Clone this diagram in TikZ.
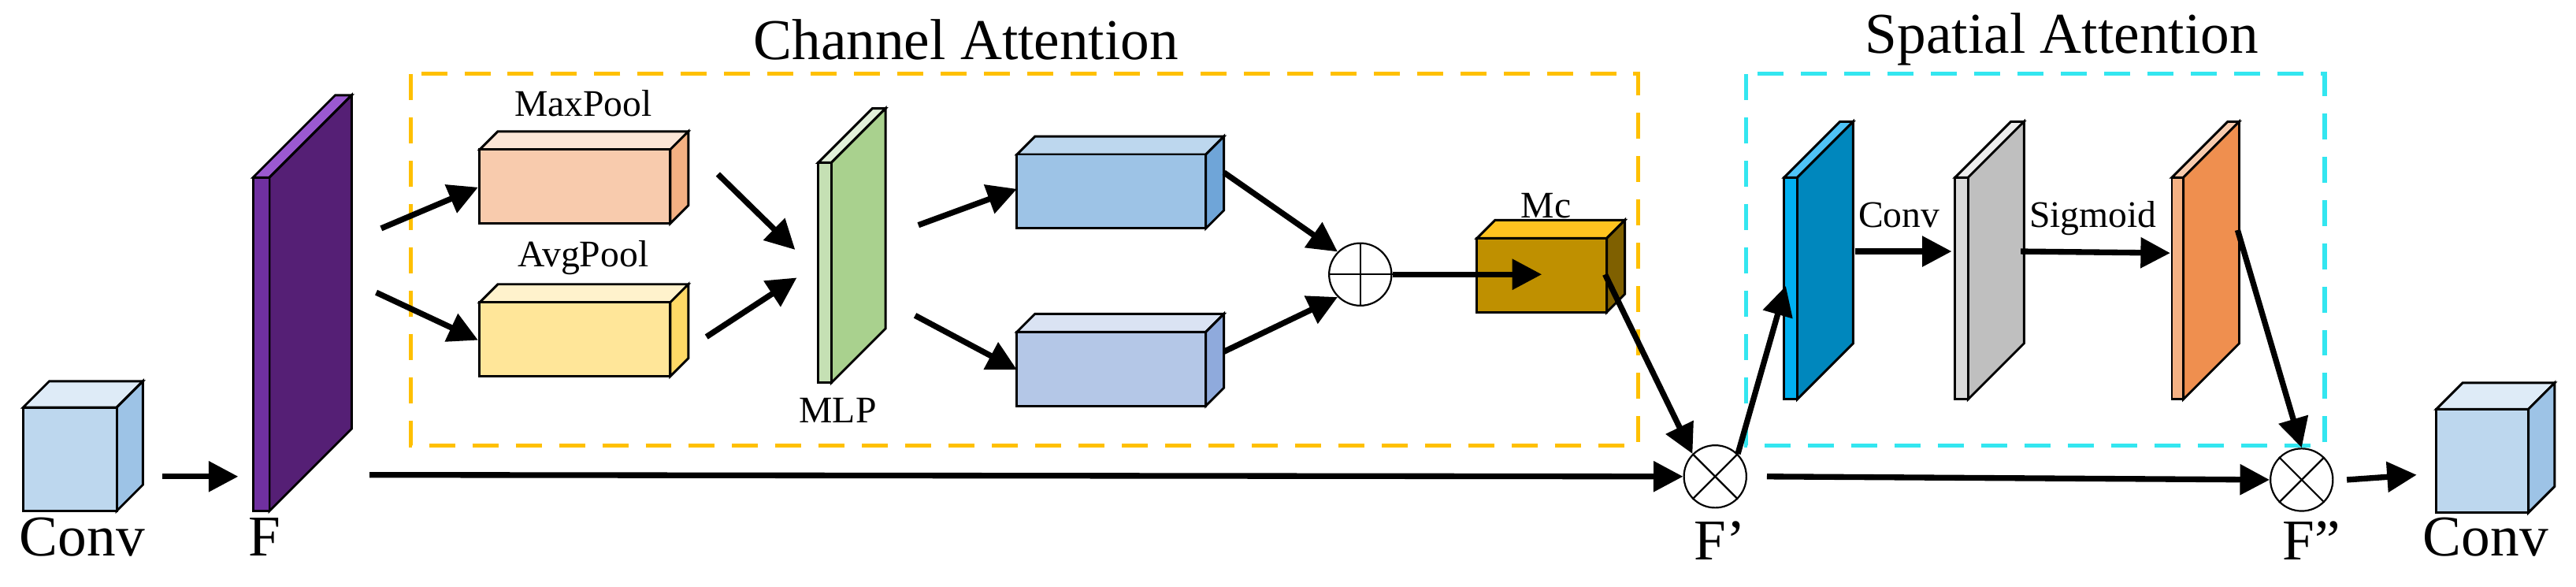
\documentclass[tikz,border=0pt]{standalone}
\usepackage{fontspec}
\setmainfont{Liberation Serif}
\usetikzlibrary{arrows.meta}
\definecolor{pF}{HTML}{7030A0}\definecolor{pS}{HTML}{551F75}\definecolor{pT}{HTML}{9B59D0}
\definecolor{mpF}{HTML}{F8CBAD}\definecolor{mpT}{HTML}{FBE5D6}\definecolor{mpS}{HTML}{F4B183}
\definecolor{apF}{HTML}{FFE699}\definecolor{apT}{HTML}{FFF2CC}\definecolor{apS}{HTML}{FFD966}
\definecolor{gF}{HTML}{C5E0B4}\definecolor{gS}{HTML}{A9D18E}\definecolor{gT}{HTML}{E2F0D9}
\definecolor{b1F}{HTML}{9DC3E6}\definecolor{b1T}{HTML}{BDD7EE}\definecolor{b1S}{HTML}{6FA5D8}
\definecolor{b2F}{HTML}{B4C7E7}\definecolor{b2T}{HTML}{DAE3F3}\definecolor{b2S}{HTML}{8FAADC}
\definecolor{mcF}{HTML}{BF9000}\definecolor{mcT}{HTML}{FFC31F}\definecolor{mcS}{HTML}{7F6000}
\definecolor{cvF}{HTML}{BDD7EE}\definecolor{cvT}{HTML}{DEEBF7}\definecolor{cvS}{HTML}{9DC3E6}
\definecolor{sbF}{HTML}{00B0F0}\definecolor{sbS}{HTML}{0087BD}\definecolor{sbT}{HTML}{4FC3F7}
\definecolor{sgF}{HTML}{D9D9D9}\definecolor{sgS}{HTML}{BFBFBF}\definecolor{sgT}{HTML}{EDEDED}
\definecolor{soF}{HTML}{F4B183}\definecolor{soS}{HTML}{EF8F4F}\definecolor{soT}{HTML}{F8CBAD}
\definecolor{chan}{HTML}{FFC000}\definecolor{spat}{HTML}{33E6F0}
\newcommand\blk[9]{%
 \filldraw[fill=#8,line width=0.8pt] (#2,#3) -- (#2+#6,#3-#6) -- (#4+#6,#3-#6) -- (#4,#3) -- cycle;
 \filldraw[fill=#9,line width=0.8pt] (#4,#3) -- (#4+#6,#3-#6) -- (#4+#6,#5-#6) -- (#4,#5) -- cycle;
 \filldraw[fill=#7,line width=0.8pt] (#2,#3) rectangle (#4,#5);
 \coordinate (#1) at ({(#2+#4)/2},{(#3+#5)/2});}
\begin{document}
\begin{tikzpicture}[x=0.02cm,y=-0.02cm,
 big/.style={font=\fontsize{20}{22}\selectfont},
 small/.style={font=\fontsize{13}{15}\selectfont},
 arr/.style={line width=2pt,-{Triangle[length=0.36cm,width=0.36cm]}},
 ln/.style={line width=2pt},
 op/.style={circle,draw,line width=0.6pt,minimum size=0.76cm,inner sep=0pt}]
\useasboundingbox (0,0) rectangle (1568,357);
% frames
\draw[chan,line width=1.4pt,dash pattern=on 9pt off 6pt] (250,45) rectangle (997,271);
\draw[spat,line width=1.4pt,dash pattern=on 9pt off 6pt] (1063,45) rectangle (1415,271);
\node[big] (tc) at (588,24) {Channel Attention};
\node[big] (ts) at (1255,24) {Spatial Attention};
% blocks
\blk{cv1}{14}{248}{71}{311}{16}{cvF}{cvT}{cvS}
\blk{F}{154}{108}{164}{311}{50}{pF}{pT}{pS}
\blk{mp}{292}{91}{408}{136}{11}{mpF}{mpT}{mpS}
\blk{ap}{292}{184}{408}{229}{11}{apF}{apT}{apS}
\blk{mlp}{498}{99}{506}{233}{33}{gF}{gT}{gS}
\blk{b1}{619}{94}{734}{139}{11}{b1F}{b1T}{b1S}
\blk{b2}{619}{202}{734}{247}{11}{b2F}{b2T}{b2S}
\blk{mc}{899}{145}{978}{190}{11}{mcF}{mcT}{mcS}
\blk{sb}{1086}{108}{1094}{243}{34}{sbF}{sbT}{sbS}
\blk{sg}{1190}{108}{1198}{243}{34}{sgF}{sgT}{sgS}
\blk{so}{1322}{108}{1329}{243}{34}{soF}{soT}{soS}
\blk{cv2}{1483}{249}{1539}{312}{16}{cvF}{cvT}{cvS}
% operators
\node[op] (plus) at (828,167) {};
\draw[line width=0.6pt] (plus.north) -- (plus.south) (plus.west) -- (plus.east);
\node[op] (m1) at (1044,290) {};
\draw[line width=0.6pt] (m1.north west) -- (m1.south east) (m1.north east) -- (m1.south west);
\node[op] (m2) at (1401,292) {};
\draw[line width=0.6pt] (m2.north west) -- (m2.south east) (m2.north east) -- (m2.south west);
% labels
\node[big] (lc1) at (50,327) {Conv};
\node[big] (lF) at (161,327) {F};
\node[small] (lmp) at (355,63) {MaxPool};
\node[small] (lap) at (355,157) {AvgPool};
\node[small] (lmlp) at (510,250) {MLP};
\node[small] (lmc) at (941,125) {Mc};
\node[small] (lcv) at (1156,131) {Conv};
\node[small] (lsg) at (1274,133) {Sigmoid};
\node[big] (lF1) at (1047,329) {F'};
\node[big] (lF2) at (1407,329) {F''};
\node[big] (lc2) at (1513,327) {Conv};
% connector coordinates
\coordinate (a1s) at (99,290); \coordinate (a1e) at (145,290);
\coordinate (a2s) at (232,139); \coordinate (a2e) at (291,114);
\coordinate (a3s) at (229,178); \coordinate (a3e) at (291,207);
\coordinate (a4s) at (437,106); \coordinate (a4e) at (484,152);
\coordinate (a5s) at (430,205); \coordinate (a5e) at (485,169);
\coordinate (a6s) at (559,137); \coordinate (a6e) at (619,115);
\coordinate (a7s) at (557,192); \coordinate (a7e) at (619,225);
\coordinate (a8s) at (745,105); \coordinate (a8e) at (745,214);
\coordinate (a9s) at (977,167);
\coordinate (fs) at (225,289);
\coordinate (sbi) at (1087,174);
\coordinate (c1s) at (1129,153); \coordinate (c1e) at (1188,153);
\coordinate (s1s) at (1230,153); \coordinate (s1e) at (1321,154);
\coordinate (o1s) at (1362,140);
\coordinate (cv2w) at (1471,289);
\draw[arr] (a1s) -- (a1e);
\draw[arr] (a2s) -- (a2e);
\draw[arr] (a3s) -- (a3e);
\draw[arr] (a4s) -- (a4e);
\draw[arr] (a5s) -- (a5e);
\draw[arr] (a6s) -- (a6e);
\draw[arr] (a7s) -- (a7e);
\draw[arr] (a8s) -- (plus.north west);
\draw[arr] (a8e) -- (plus.south west);
\draw[arr] (plus.east) -- (mc.west |- plus.east);
\draw[arr] (a9s) -- (m1.north west);
\draw[arr] (fs) -- (m1.west);
\draw[arr] (m1.north east) -- (sbi);
\draw[arr] (c1s) -- (c1e);
\draw[arr] (s1s) -- (s1e);
\draw[arr] (o1s) -- (m2.north);
\draw[arr] (m1.east) ++(12,0) coordinate (m1o) -- (m2.west);
\draw[arr] (m2.east) ++(8,0) coordinate (m2o) -- (cv2w);
\end{tikzpicture}
\end{document}
